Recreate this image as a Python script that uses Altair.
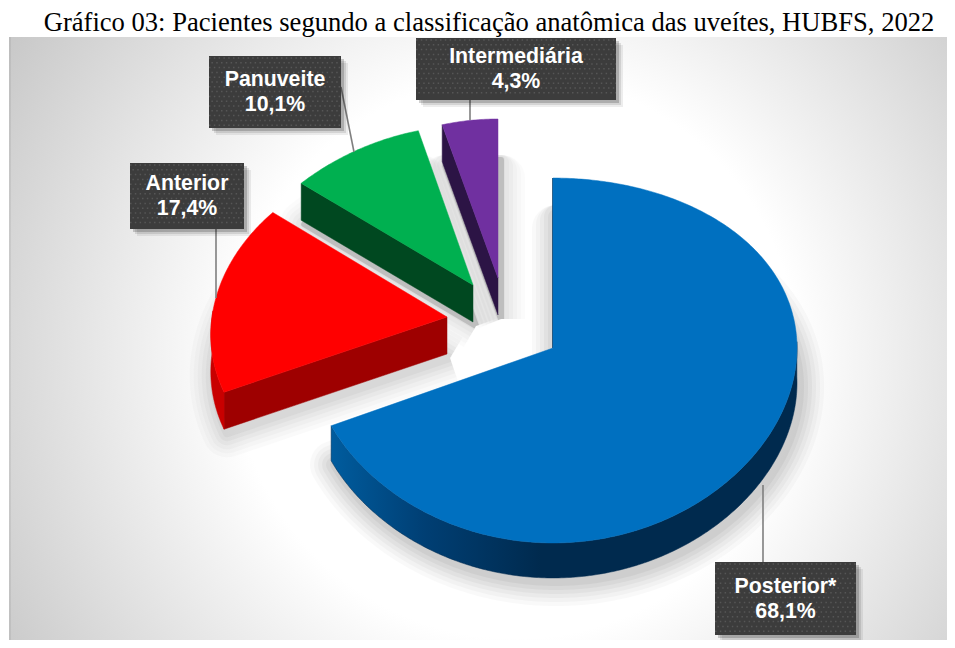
import math
import altair as alt
import pandas as pd

# ---- chart values ----
categories = ["Posterior*", "Anterior", "Panuveite", "Intermediária"]
shares = [68.1, 17.4, 10.1, 4.3]
title_text = "Gráfico 03: Pacientes segundo a classificação anatômica das uveítes, HUBFS, 2022"

# ---- styling ----
top_colors = ["#0070C0", "#FF0000", "#00B050", "#7030A0"]
cut_colors = [None, "#9E0000", "#004820", "#2C1445"]
# exploded-slice geometry of the tilted 3D pie: apex x, apex y, radius x, radius y, perspective x, perspective y
apex_x = [553, 447, 473, 498]
apex_y = [348, 317, 285, 278]
radius_x = [244, 235, 248, 209]
radius_y = [181.6, 176, 174, 159]
persp_x = [0.0, 0.10, 0.22, 0.0]
persp_y = [0.0685, 0.063, 0.09, 0.0]
depth = [35, 37, 37, 37]
shadow_clip = [205, 0, 155, 155]
shadow_core = [0.0, 0.0, 0.14, 0.14]
shadow_gain = [1.0, 0.8, 0.6, 0.6]
box_left = [715, 130, 209, 416]
box_right = [856, 244, 341, 616]
box_top = [562, 163, 56, 38]
box_bottom = [635, 229, 128, 100]
leader_from = [(763, 562), (216, 229), (341, 87), (470, 100)]
leader_to = [(763, 485), (216, 298), (354, 152), (470, 120)]

W, H = 939, 632
FX = alt.X("x:Q", scale=alt.Scale(domain=[8, 8 + W], nice=False, zero=False), axis=None)
FY = alt.Y("y:Q", scale=alt.Scale(domain=[8 + H, 8], nice=False, zero=False), axis=None)


def project(i, deg, extra_y=0.0):
    t = math.radians(deg)
    X, Y = math.sin(t), math.cos(t)
    return (
        apex_x[i] + radius_x[i] * X / (1 + persp_x[i] * Y),
        apex_y[i] - radius_y[i] * Y / (1 + persp_y[i] * Y) + extra_y,
    )


def arc_points(i, a0, a1, extra_y=0.0):
    n = max(2, int(abs(a1 - a0) * 1.5))
    return [project(i, a0 + (a1 - a0) * k / n, extra_y) for k in range(n + 1)]


def polygon(points, **mark):
    pts = list(points) + [points[0]]
    df = pd.DataFrame({"x": [p[0] for p in pts], "y": [p[1] for p in pts], "i": range(len(pts))})
    return alt.Chart(df).mark_line(**mark).encode(x=FX, y=FY, order=alt.Order("i:Q"))


def rect_layer(x0, x1, y0, y1, **mark):
    df = pd.DataFrame({"x": [x0], "x2": [x1], "y": [y0], "y2": [y1]})
    return alt.Chart(df).mark_rect(**mark).encode(x=FX, x2="x2:Q", y=FY, y2="y2:Q")


# slice angles come straight from the shares
total = sum(shares)
start = [sum(shares[:k]) / total * 360 for k in range(4)]
end = [sum(shares[: k + 1]) / total * 360 for k in range(4)]

layers = []

# background
layers.append(
    rect_layer(
        9, 947, 37, 640,
        fill=alt.RadialGradient(
            gradient="radial",
            x1=0.54, y1=0.52, r1=0.0,
            x2=0.54, y2=0.52, r2=0.75,
            stops=[
                alt.GradientStop(offset=0.0, color="#ffffff"),
                alt.GradientStop(offset=0.40, color="#ffffff"),
                alt.GradientStop(offset=1.0, color="#b6b6b6"),
            ],
        ),
    )
)
layers.append(rect_layer(9, 11, 37, 640, color="#000000", opacity=0.06))

# soft floor shadows
for i in [3, 2, 1, 0]:
    outline = [(apex_x[i], apex_y[i] + depth[i])] + arc_points(i, start[i], end[i], depth[i])
    for sw, op in [(48, 0.018), (40, 0.022), (32, 0.026), (24, 0.03), (16, 0.034), (8, 0.04)]:
        lo = shadow_clip[i] + sw / 2
        pts = [(x + 3, max(y + 4, lo)) for x, y in outline]
        layers.append(
            polygon(pts, color="#000000", fill="#000000", strokeWidth=sw, opacity=op * shadow_gain[i], strokeJoin="round")
        )
    if shadow_core[i]:
        pts = [(x + 3, max(y + 4, shadow_clip[i])) for x, y in outline]
        layers.append(polygon(pts, color="#000000", fill="#000000", strokeWidth=6, opacity=shadow_core[i], strokeJoin="round"))

# slices, back to front
for i in [3, 2, 1, 0]:
    apex = (apex_x[i], apex_y[i])
    d = depth[i]
    if cut_colors[i]:
        corner = project(i, start[i])
        layers.append(
            polygon(
                [corner, apex, (apex[0], apex[1] + d), (corner[0], corner[1] + d)],
                color=cut_colors[i], fill=cut_colors[i], strokeWidth=0.5,
            )
        )
    if i == 1:
        rim = arc_points(i, start[i], 272)
        rim_low = arc_points(i, start[i], 272, d)
        layers.append(polygon(rim + rim_low[::-1], color="#C80000", fill="#C80000", strokeWidth=0.5))
    if i == 0:
        rim = arc_points(i, 88, end[i])
        rim_low = arc_points(i, 88, end[i], d)
        layers.append(
            polygon(
                rim + rim_low[::-1],
                color="#00284C",
                strokeWidth=0.5,
                fill=alt.LinearGradient(
                    gradient="linear", x1=0, y1=0, x2=1, y2=0,
                    stops=[
                        alt.GradientStop(offset=0.0, color="#005C9E"),
                        alt.GradientStop(offset=0.2, color="#003F74"),
                        alt.GradientStop(offset=0.45, color="#002A4E"),
                        alt.GradientStop(offset=1.0, color="#002A4E"),
                    ],
                ),
            )
        )
        layers.append(polygon([project(i, start[i]), apex], color="#00284C", strokeWidth=1.5))
    top = [apex] + arc_points(i, start[i], end[i])
    layers.append(polygon(top, color=top_colors[i], fill=top_colors[i], strokeWidth=0.5))

# leader lines
for a, b in zip(leader_from, leader_to):
    df = pd.DataFrame({"x": [a[0]], "y": [a[1]], "x2": [b[0]], "y2": [b[1]]})
    layers.append(
        alt.Chart(df).mark_rule(color="#7f7f7f", strokeWidth=1.6).encode(x=FX, y=FY, x2="x2:Q", y2="y2:Q")
    )

# label boxes
DOT = 4.8
for i in range(4):
    for off, op in [(7, 0.07), (5, 0.10), (3, 0.18)]:
        layers.append(
            rect_layer(box_left[i] + off, box_right[i] + off, box_top[i] + off, box_bottom[i] + off, color="#000000", opacity=op)
        )
    layers.append(rect_layer(box_left[i], box_right[i], box_top[i], box_bottom[i], color="#3C3C3C"))
    # dotted texture of the label boxes
    rows = int((box_bottom[i] - box_top[i]) / DOT)
    for parity in (0, 1):
        ys = [box_top[i] + 2 + k * DOT for k in range(rows) if k % 2 == parity]
        dots = pd.DataFrame({"x": [box_left[i]] * len(ys), "x2": [box_right[i]] * len(ys), "y": ys})
        layers.append(
            alt.Chart(dots)
            .mark_rule(color="#565656", strokeWidth=1.5, strokeDash=[1.5, DOT - 1.5], strokeDashOffset=parity * DOT / 2)
            .encode(x=FX, x2="x2:Q", y=FY)
        )
    cx = (box_left[i] + box_right[i]) / 2
    cy = (box_top[i] + box_bottom[i]) / 2
    txt = pd.DataFrame(
        {
            "x": [cx, cx],
            "y": [cy - 12, cy + 13],
            "t": [categories[i], f"{shares[i]:.1f}".replace(".", ",") + "%"],
        }
    )
    layers.append(
        alt.Chart(txt)
        .mark_text(font="Liberation Sans", fontWeight="bold", fontSize=21.3, color="#ffffff", baseline="middle", align="center")
        .encode(x=FX, y=FY, text="t:N")
    )

# title
tt = pd.DataFrame({"x": [489], "y": [31], "t": [title_text]})
layers.append(
    alt.Chart(tt)
    .mark_text(font="Liberation Serif", fontSize=26.6, color="#000000", baseline="alphabetic", align="center")
    .encode(x=FX, y=FY, text="t:N")
)

chart = (
    alt.layer(*layers)
    .properties(width=W, height=H, padding=0, autosize=alt.AutoSizeParams(type="none"), background="#ffffff")
    .configure_view(stroke=None)
)

chart.save("out.html", embed_options={"renderer": "svg", "actions": False})
